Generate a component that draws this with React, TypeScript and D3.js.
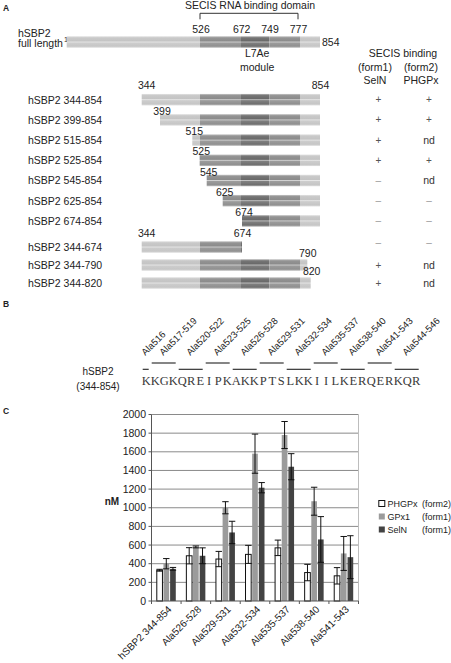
import React from "react";
import * as d3 from "d3";

// ---------- Panel A data ----------
const domainBounds = [1, 526, 672, 749, 777, 854];
const domainShades = ["light", "mid", "dark", "mid", "light"];
const boundaryLabels = [526, 672, 749, 777];
const constructNames = [
  "hSBP2 344-854", "hSBP2 399-854", "hSBP2 515-854", "hSBP2 525-854", "hSBP2 545-854",
  "hSBP2 625-854", "hSBP2 674-854", "hSBP2 344-674", "hSBP2 344-790", "hSBP2 344-820",
];
const constructStarts = [344, 399, 515, 525, 545, 625, 674, 344, 344, 344];
const constructEnds = [854, 854, 854, 854, 854, 854, 854, 674, 790, 820];
const showStartLabel = [true, true, true, true, true, true, true, true, false, false];
const showEndLabel = [true, false, false, false, false, false, false, true, true, true];
const bindingSelN = ["+", "+", "+", "+", "–", "–", "–", "–", "+", "+"];
const bindingPHGPx = ["+", "+", "nd", "+", "nd", "–", "–", "–", "nd", "nd"];

// ---------- Panel B data ----------
const sequence = "KKGKQREIPKAKKPTSLKKIILKERQERKQR";
const seqFirstResidue = 516;
const alaMutants = ["Ala516", "Ala517-519", "Ala520-522", "Ala523-525", "Ala526-528", "Ala529-531",
  "Ala532-534", "Ala535-537", "Ala538-540", "Ala541-543", "Ala544-546"];
const alaFrom = [516, 517, 520, 523, 526, 529, 532, 535, 538, 541, 544];
const alaTo = [516, 519, 522, 525, 528, 531, 534, 537, 540, 543, 546];

// ---------- Panel C data ----------
const categories = ["hSBP2 344-854", "Ala526-528", "Ala529-531", "Ala532-534", "Ala535-537", "Ala538-540", "Ala541-543"];
const seriesNames = ["PHGPx", "GPx1", "SelN"];
const seriesForms = ["(form2)", "(form1)", "(form1)"];
const phgpxValues = [330, 485, 450, 500, 570, 305, 270];
const phgpxErrors = [10, 87, 82, 97, 83, 88, 88];
const gpx1Values = [400, 580, 1000, 1580, 1780, 1070, 510];
const gpx1Errors = [55, 10, 65, 210, 145, 150, 182];
const selnValues = [345, 485, 735, 1215, 1440, 660, 470];
const selnErrors = [15, 85, 120, 55, 140, 245, 230];
const yTicks = [0, 200, 400, 600, 800, 1000, 1200, 1400, 1600, 1800, 2000];

const FONT = "'Liberation Sans', Arial, sans-serif";
const TXT = "#222";

const shadeColors: Record<string, string> = { light: "#c4c4c4", mid: "#8b8b8b", dark: "#696969" };
const gradStops: [number, number][] = [
  [0, 0.5], [0.14, 0.08], [0.42, 0], [0.5, 0.6], [0.58, 0.15], [0.86, 0.04], [1, 0.45],
];

export default function App() {
  // Panel A schematic (piecewise, not to scale)
  const xA = d3.scaleLinear()
    .domain([1, 344, 399, 515, 526, 545, 625, 672, 674, 749, 777, 790, 820, 854])
    .range([66.7, 141.7, 160, 192.3, 200, 206.7, 222.7, 241, 242, 269.3, 300, 307.3, 310.7, 320]);
  const barH = 11.5;
  const rowY = (i: number) => (i < 7 ? 99.7 + i * 20.2 : 247 + (i - 7) * 18);
  const labelOffset = (i: number) => (i === 0 || i === 7 ? -4.5 : i >= 8 ? -2 : 0.8);
  const symY = (i: number) => (i === 7 ? rowY(i) - 4.5 : rowY(i));

  const segmentsFor = (s: number, e: number) => {
    const segs: { a: number; b: number; shade: string }[] = [];
    for (let k = 0; k < domainShades.length; k++) {
      const a = Math.max(s, domainBounds[k]);
      const b = Math.min(e, domainBounds[k + 1]);
      if (b > a) segs.push({ a, b, shade: domainShades[k] });
    }
    return segs;
  };

  const drawBar = (s: number, e: number, cy: number, key: string) => (
    <g key={key}>
      {segmentsFor(s, e).map((sg, j) => (
        <rect key={j} x={xA(sg.a)} y={cy - barH / 2} width={xA(sg.b) - xA(sg.a)} height={barH}
          fill={`url(#grad-${sg.shade})`} />
      ))}
    </g>
  );

  // Panel B
  const charW = 9;
  const seqX0 = 141.7;
  const charX = (res: number) => seqX0 + (res - seqFirstResidue) * charW;

  // Panel C
  const x0 = d3.scaleBand<string>().domain(categories).range([151.5, 358.5]).paddingInner(0.324).paddingOuter(0.162);
  const x1 = d3.scaleBand<string>().domain(seriesNames).range([0, x0.bandwidth()]);
  const y = d3.scaleLinear().domain([0, 2000]).range([601, 414.5]);
  const seriesValues = [phgpxValues, gpx1Values, selnValues];
  const seriesErrors = [phgpxErrors, gpx1Errors, selnErrors];
  const seriesFill = ["#ffffff", "#9b9b9b", "#434343"];
  const seriesStroke = ["#111", "#9b9b9b", "#434343"];
  const step = x0.step();
  const plotL = 151.5, plotR = 358.5;

  return (
    <div style={{ position: "absolute", left: 0, top: 0 }}>
      <svg width={451} height={663} style={{ display: "block", background: "#fff" }} fontFamily={FONT}>
        <defs>
          {Object.keys(shadeColors).map((k) => (
            <linearGradient key={k} id={`grad-${k}`} x1="0" y1="0" x2="0" y2="1">
              {gradStops.map(([o, t], j) => (
                <stop key={j} offset={o} stopColor={d3.interpolateRgb(shadeColors[k], "#ffffff")(t)} />
              ))}
            </linearGradient>
          ))}
        </defs>

        {/* ===== Panel A ===== */}
        <text x={3} y={11} fontSize={8.5} fontWeight="bold" fill={TXT}>A</text>
        <text x={(xA(526) + xA(777)) / 2} y={9} fontSize={10.5} textAnchor="middle" fill={TXT}>SECIS RNA  binding domain</text>
        <path d={`M${xA(526)},19.3V13.3H${xA(777) - 2}V19.3`} fill="none" stroke="#333" strokeWidth={1} />
        {boundaryLabels.map((b, i) => (
          <text key={b} x={xA(b) + (i === 0 ? 1 : i === 3 ? -1.5 : 0.7)} y={33} fontSize={10.5} textAnchor="middle" fill={TXT}>{b}</text>
        ))}
        <text x={18} y={36.5} fontSize={10.5} fill={TXT}>hSBP2</text>
        <text x={18} y={47} fontSize={10.5} fill={TXT}>full length</text>
        <text x={64} y={42} fontSize={7.5} fill={TXT}>1</text>
        {drawBar(domainBounds[0], domainBounds[domainBounds.length - 1], 42, "full")}
        <text x={322} y={45.5} fontSize={10.5} fill={TXT}>854</text>
        <text x={(xA(672) + xA(749)) / 2 + 2} y={57} fontSize={10.5} textAnchor="middle" fill={TXT}>L7Ae</text>
        <text x={(xA(672) + xA(749)) / 2 + 2} y={70.5} fontSize={10.5} textAnchor="middle" fill={TXT}>module</text>

        <text x={403} y={57} fontSize={10.5} textAnchor="middle" fill={TXT}>SECIS binding</text>
        <text x={375} y={70.5} fontSize={10.5} textAnchor="middle" fill={TXT}>(form1)</text>
        <text x={421} y={70.5} fontSize={10.5} textAnchor="middle" fill={TXT}>(form2)</text>
        <text x={375} y={84} fontSize={10.5} textAnchor="middle" fill={TXT}>SelN</text>
        <text x={421} y={84} fontSize={10.5} textAnchor="middle" fill={TXT}>PHGPx</text>

        {constructNames.map((name, i) => {
          const cy = rowY(i);
          const top = cy - barH / 2;
          const lb = top + labelOffset(i);
          return (
            <g key={name}>
              <text x={28} y={cy + 3.8} fontSize={10.5} fill={TXT}>{name}</text>
              {drawBar(constructStarts[i], constructEnds[i], cy, "b" + i)}
              {showStartLabel[i] && (
                <text x={xA(constructStarts[i]) + (constructStarts[i] === 344 ? 5 : 2)} y={lb} fontSize={10.5} textAnchor="middle" fill={TXT}>{constructStarts[i]}</text>
              )}
              {showEndLabel[i] && (
                <text x={xA(constructEnds[i]) + (constructEnds[i] === 820 ? 1 : 0.5)} y={lb} fontSize={10.5} textAnchor="middle" fill={TXT}>{constructEnds[i]}</text>
              )}
              {[bindingSelN[i], bindingPHGPx[i]].map((v, j) => (
                <text key={j} x={j === 0 ? 378.3 : 429} y={symY(i) + 3.5} fontSize={v === "nd" ? 10.5 : 10}
                  textAnchor="middle" fill={v === "nd" ? "#333" : v === "+" ? "#555" : "#999"}>{v}</text>
              ))}
            </g>
          );
        })}

        {/* ===== Panel B ===== */}
        <text x={3} y={307} fontSize={8.5} fontWeight="bold" fill={TXT}>B</text>
        {alaMutants.map((m, k) => {
          const a = charX(alaFrom[k]);
          const b = charX(alaTo[k] + 1);
          const ly = k % 2 === 0 ? 369.3 : 363;
          const cx = (a + b) / 2;
          return (
            <g key={m}>
              <line x1={a + 1} x2={b - 2} y1={ly} y2={ly} stroke="#222" strokeWidth={1.1} />
              <text transform={`translate(${cx - 1},${356}) rotate(-45)`} fontSize={9.5} fill={TXT}>{m}</text>
            </g>
          );
        })}
        <text x={98} y={374.5} fontSize={10} textAnchor="middle" fill={TXT}>hSBP2</text>
        <text x={98} y={389.5} fontSize={10} textAnchor="middle" fill={TXT}>(344-854)</text>
        {sequence.split("").map((ch, k) => (
          <text key={k} x={seqX0 + k * charW + charW / 2} y={385} fontSize={12.5} textAnchor="middle"
            fontFamily="'Liberation Serif', 'DejaVu Serif', serif" fill="#3a3a3a">{ch}</text>
        ))}

        {/* ===== Panel C ===== */}
        <text x={3} y={414} fontSize={8.5} fontWeight="bold" fill={TXT}>C</text>
        {yTicks.map((t) => (
          <g key={t}>
            {t > 0 && <line x1={plotL} x2={plotR} y1={y(t)} y2={y(t)} stroke="#8a8a8a" strokeWidth={1} />}
            <line x1={plotL - 3} x2={plotL} y1={y(t)} y2={y(t)} stroke="#555" strokeWidth={1} />
            <text x={146} y={y(t) + 3.5} fontSize={10.5} textAnchor="end" fill={TXT}>{t}</text>
          </g>
        ))}
        <line x1={plotR} x2={plotR} y1={y(2000)} y2={y(0)} stroke="#bdbdbd" strokeWidth={1} />
        {categories.map((c, ci) => (
          <g key={c}>
            {seriesNames.map((s, si) => {
              const v = seriesValues[si][ci];
              const e = seriesErrors[si][ci];
              const bx = (x0(c) as number) + (x1(s) as number);
              const bw = x1.bandwidth();
              const cx = bx + bw / 2;
              return (
                <g key={s}>
                  <rect x={bx + 0.5} y={y(v)} width={bw - 1} height={y(0) - y(v)} fill={seriesFill[si]}
                    stroke={seriesStroke[si]} strokeWidth={si === 0 ? 1 : 0} />
                  <line x1={cx} x2={cx} y1={y(v + e)} y2={y(v - e)} stroke="#111" strokeWidth={1} />
                  <line x1={cx - 3.2} x2={cx + 3.2} y1={y(v + e)} y2={y(v + e)} stroke="#111" strokeWidth={1} />
                  <line x1={cx - 3.2} x2={cx + 3.2} y1={y(v - e)} y2={y(v - e)} stroke="#111" strokeWidth={1} />
                </g>
              );
            })}
          </g>
        ))}
        <line x1={plotL} x2={plotL} y1={y(2000)} y2={y(0)} stroke="#555" strokeWidth={1} />
        <line x1={plotL} x2={plotR} y1={y(0)} y2={y(0)} stroke="#555" strokeWidth={1} />
        {d3.range(categories.length + 1).map((i) => (
          <line key={i} x1={plotL + i * step} x2={plotL + i * step} y1={y(0)} y2={y(0) + 3} stroke="#555" strokeWidth={1} />
        ))}
        {categories.map((c) => {
          const cx = (x0(c) as number) + x0.bandwidth() / 2;
          return (
            <text key={c} transform={`translate(${cx + 6},${610}) rotate(-45)`} fontSize={10} textAnchor="end" fill={TXT}>{c}</text>
          );
        })}
        <text x={112} y={505} fontSize={10} fontWeight="bold" textAnchor="middle" fill={TXT}>nM</text>

        {seriesNames.map((s, si) => {
          const ry = 503.5 + si * 13;
          return (
            <g key={s}>
              <rect x={378.8} y={ry - 3} width={6} height={6} fill={seriesFill[si]} stroke={si === 0 ? "#111" : "none"} strokeWidth={1} />
              <text x={387.5} y={ry + 3.3} fontSize={9} fill={TXT}>{s}</text>
              <text x={422} y={ry + 3.3} fontSize={9} fill={TXT}>{seriesForms[si]}</text>
            </g>
          );
        })}
      </svg>
    </div>
  );
}
